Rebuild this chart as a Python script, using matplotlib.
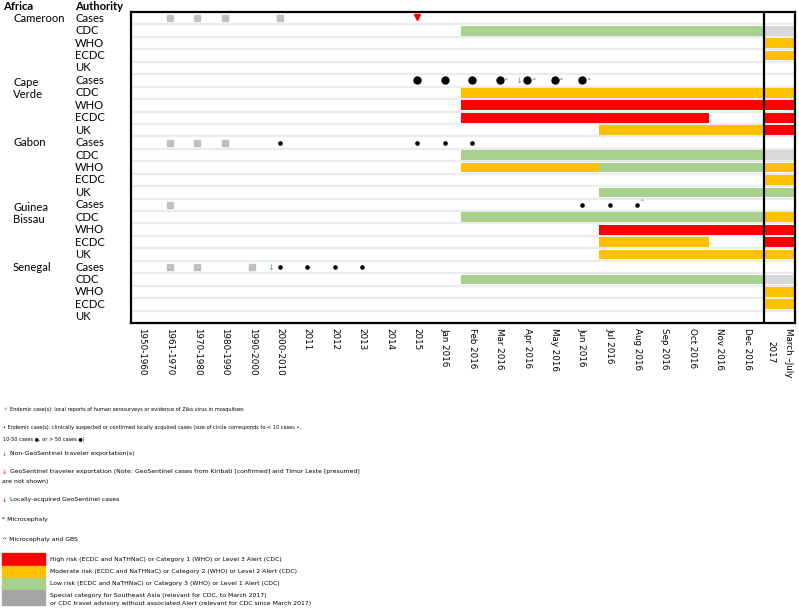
import matplotlib
matplotlib.use('Agg')
import matplotlib.pyplot as plt

# periods along the x axis (last one is the separate 2017 column)
periods = ['1950-1960', '1961-1970', '1970-1980', '1980-1990', '1990-2000', '2000-2010',
           '2011', '2012', '2013', '2014', '2015', 'Jan 2016', 'Feb 2016', 'Mar 2016',
           'Apr 2016', 'May 2016', 'Jun 2016', 'Jul 2016', 'Aug 2016', 'Sep 2016',
           'Oct 2016', 'Nov 2016', 'Dec 2016', 'March \u2013July\n2017']
countries = ['Cameroon', 'Cape Verde', 'Gabon', 'Guinea Bissau', 'Senegal']
country_labels = ['Cameroon', 'Cape\nVerde', 'Gabon', 'Guinea\nBissau', 'Senegal']
authorities = ['Cases', 'CDC', 'WHO', 'ECDC', 'UK']

# alert spans: country, authority, first period, last period, level
alert_spans = [
    ('Cameroon', 'CDC', 'Feb 2016', 'Dec 2016', 'low'),
    ('Cape Verde', 'CDC', 'Feb 2016', 'Dec 2016', 'moderate'),
    ('Cape Verde', 'WHO', 'Feb 2016', 'Dec 2016', 'high'),
    ('Cape Verde', 'ECDC', 'Feb 2016', 'Oct 2016', 'high'),
    ('Cape Verde', 'UK', 'Jul 2016', 'Dec 2016', 'moderate'),
    ('Gabon', 'CDC', 'Feb 2016', 'Dec 2016', 'low'),
    ('Gabon', 'WHO', 'Feb 2016', 'Jun 2016', 'moderate'),
    ('Gabon', 'WHO', 'Jul 2016', 'Dec 2016', 'low'),
    ('Gabon', 'UK', 'Jul 2016', 'Dec 2016', 'low'),
    ('Guinea Bissau', 'CDC', 'Feb 2016', 'Dec 2016', 'low'),
    ('Guinea Bissau', 'WHO', 'Jul 2016', 'Dec 2016', 'high'),
    ('Guinea Bissau', 'ECDC', 'Jul 2016', 'Oct 2016', 'moderate'),
    ('Guinea Bissau', 'UK', 'Jul 2016', 'Dec 2016', 'moderate'),
    ('Senegal', 'CDC', 'Feb 2016', 'Dec 2016', 'low'),
]
# March-July 2017 column, order CDC, WHO, ECDC, UK
alerts_2017 = {
    'Cameroon': ['special', 'moderate', 'moderate', None],
    'Cape Verde': ['moderate', 'high', 'high', 'high'],
    'Gabon': ['special', 'moderate', 'moderate', 'low'],
    'Guinea Bissau': ['moderate', 'high', 'high', 'moderate'],
    'Senegal': ['special', 'moderate', 'moderate', None],
}

# serosurvey / mosquito evidence (grey squares)
endemic_sero = {
    'Cameroon': ['1961-1970', '1970-1980', '1980-1990', '2000-2010'],
    'Gabon': ['1961-1970', '1970-1980', '1980-1990'],
    'Guinea Bissau': ['1961-1970'],
    'Senegal': ['1961-1970', '1970-1980', '1990-2000'],
}
# locally acquired cases: country, period, size class (1: <10, 2: 10-50, 3: >50)
local_cases = [
    ('Cape Verde', '2015', 3), ('Cape Verde', 'Jan 2016', 3), ('Cape Verde', 'Feb 2016', 3),
    ('Cape Verde', 'Mar 2016', 3), ('Cape Verde', 'Apr 2016', 3), ('Cape Verde', 'May 2016', 3),
    ('Cape Verde', 'Jun 2016', 3),
    ('Gabon', '2000-2010', 1), ('Gabon', '2015', 1), ('Gabon', 'Jan 2016', 1), ('Gabon', 'Feb 2016', 1),
    ('Guinea Bissau', 'Jun 2016', 1), ('Guinea Bissau', 'Jul 2016', 1), ('Guinea Bissau', 'Aug 2016', 1),
    ('Senegal', '2000-2010', 1), ('Senegal', '2011', 1), ('Senegal', '2012', 1), ('Senegal', '2013', 1),
]
microcephaly = [('Cape Verde', 'Mar 2016'), ('Cape Verde', 'Apr 2016'),
                ('Cape Verde', 'May 2016'), ('Cape Verde', 'Jun 2016')]
microcephaly_gbs = [('Guinea Bissau', 'Aug 2016')]
non_geo_exports = [('Cape Verde', 'Apr 2016'), ('Senegal', '2000-2010')]
local_geosentinel = [('Cameroon', '2015')]

colors = {'high': '#ff0000', 'moderate': '#ffc000', 'low': '#a9d18e', 'special': '#d9d9d9'}

W, H = 799, 611
fig = plt.figure(figsize=(W / 100, H / 100), dpi=100)

def fx(px):
    return px / W

def fy(py):
    return 1 - py / H

ax_l, ax_r, ax_t, ax_b = 131, 795, 12, 323
ax = fig.add_axes([fx(ax_l), fy(ax_b), fx(ax_r - ax_l), fy(ax_t) - fy(ax_b)])
colw = 27.52
xmax = (ax_r - ax_l) / colw
n_main = len(periods) - 1
nrows = len(countries) * len(authorities)
ax.set_xlim(0, xmax)
ax.set_ylim(nrows, 0)

def row(c, a):
    return countries.index(c) * len(authorities) + authorities.index(a) + 0.5

def col(p):
    return periods.index(p) + 0.4

for r in range(1, nrows):
    ax.axhline(r, color='#ececec', lw=1.6, zorder=1)

bh = 0.78
for c, a, p0, p1, lev in alert_spans:
    x0 = periods.index(p0)
    x1 = periods.index(p1) + 1
    ax.barh(row(c, a), x1 - x0, left=x0, height=bh, color=colors[lev], zorder=2)
for c, levs in alerts_2017.items():
    for a, lev in zip(authorities[1:], levs):
        if lev:
            ax.barh(row(c, a), xmax - n_main, left=n_main, height=bh, color=colors[lev], zorder=2)

for c, plist in endemic_sero.items():
    ax.plot([col(p) for p in plist], [row(c, 'Cases')] * len(plist), 's',
            color='#c0c0c0', ms=4.2, zorder=3)

dot_size = {1: 2.3, 2: 3.5, 3: 5.0}
for c, p, s in local_cases:
    ax.plot(col(p), row(c, 'Cases'), 'o', color='black', ms=dot_size[s], zorder=3)
for c, p in microcephaly:
    ax.text(col(p) + 0.2, row(c, 'Cases') - 0.05, '*', fontsize=4, color='#444444',
            ha='left', va='center', zorder=4)
for c, p in microcephaly_gbs:
    ax.text(col(p) + 0.08, row(c, 'Cases') - 0.25, '^', fontsize=4, color='#444444',
            ha='left', va='center', zorder=4)
for c, p in non_geo_exports:
    ax.text(col(p) - 0.2, row(c, 'Cases'), '\u2193', fontsize=6, color='#5b9bd5',
            ha='right', va='center', zorder=4)
for c, p in local_geosentinel:
    ax.plot(col(p), row(c, 'Cases') - 0.1, 'v', color='#ff0000', ms=4, zorder=3)

ax.axvline(n_main, color='black', lw=1.6, zorder=5)
for sp in ax.spines.values():
    sp.set_linewidth(1.6)
ax.set_yticks([])
ticks = [i + 0.4 for i in range(n_main)] + [n_main + (xmax - n_main) / 2]
ax.set_xticks(ticks)
ax.set_xticklabels(periods, rotation=-90, ha='center', va='top', fontsize=6.3,
                   family='DejaVu Sans')
ax.get_xticklabels()[-1].set_linespacing(2.2)
ax.tick_params(axis='x', length=0, pad=3.5)

# row labels
lab_font = dict(family=['Lato', 'DejaVu Sans'], fontsize=8.1)
fig.text(fx(3), fy(6), 'Africa', fontweight='bold', va='center', **lab_font)
fig.text(fx(75), fy(6), 'Authority', fontweight='bold', va='center', **lab_font)
row_px = (ax_b - ax_t) / nrows
for ci, name in enumerate(country_labels):
    yc = ax_t + (ci * len(authorities) + 0.5) * row_px
    if '\n' in name:
        fig.text(fx(13), fy(yc - 3), name, va='top', linespacing=1.1, **lab_font)
    else:
        fig.text(fx(13), fy(yc), name, va='center', **lab_font)
    for ai, a in enumerate(authorities):
        yr = ax_t + (ci * len(authorities) + ai + 0.5) * row_px
        fig.text(fx(75), fy(yr), a, va='center', **lab_font)

# legend
leg_fam = ['Liberation Sans Narrow', 'DejaVu Sans']
small = dict(family=leg_fam, fontsize=3.6, va='center')
leg_font = dict(family=leg_fam, fontsize=4.4, va='center')
fig.text(fx(3), fy(409), '\u25aa', color='#c0c0c0', **small)
fig.text(fx(10), fy(409), 'Endemic case(s): local reports of human serosurveys or evidence of Zika virus in mosquitoes', **small)
fig.text(fx(3), fy(427), '\u2022 Endemic case(s): clinically suspected or confirmed locally acquired cases (size of circle corresponds to < 10 cases \u2022,', **small)
fig.text(fx(3), fy(439), '10-50 cases \u25cf, or > 50 cases \u25cf)', **small)
fig.text(fx(2), fy(454), '\u2193', color='#4472c4', **leg_font)
fig.text(fx(10), fy(454), 'Non-GeoSentinel traveler exportation(s)', **leg_font)
fig.text(fx(2), fy(472), '\u21d3', color='#ff0000', **leg_font)
fig.text(fx(10), fy(472), 'GeoSentinel traveler exportation (Note: GeoSentinel cases from Kiribati [confirmed] and Timor Leste [presumed]', **leg_font)
fig.text(fx(2), fy(482), 'are not shown)', **leg_font)
fig.text(fx(2), fy(500), '\u2193', color='#ff0000', **leg_font)
fig.text(fx(10), fy(500), 'Locally-acquired GeoSentinel cases', **leg_font)
fig.text(fx(2), fy(519), '* Microcephaly', **leg_font)
fig.text(fx(2), fy(539), '^ Microcephaly and GBS', **leg_font)

legend_levels = ['high', 'moderate', 'low']
legend_texts = ['High risk (ECDC and NaTHNaC) or Category 1 (WHO) or Level 3 Alert (CDC)',
                'Moderate risk (ECDC and NaTHNaC) or Category 2 (WHO) or Level 2 Alert (CDC)',
                'Low risk (ECDC and NaTHNaC) or Category 3 (WHO) or Level 1 Alert (CDC)']
box_tops = [553, 565.5, 578, 590]
box_h = [12.5, 12.5, 12, 15]
for lev, txt, top, h in zip(legend_levels, legend_texts, box_tops, box_h):
    fig.patches.append(plt.Rectangle((fx(2), fy(top + h)), fx(43), h / H, color=colors[lev],
                                     transform=fig.transFigure, figure=fig))
    fig.text(fx(50), fy(top + h / 2), txt, **leg_font)
fig.patches.append(plt.Rectangle((fx(2), fy(605)), fx(43), 15 / H, color='#a6a6a6',
                                 transform=fig.transFigure, figure=fig))
fig.text(fx(50), fy(595), 'Special category for Southeast Asia (relevant for CDC, to March 2017)', **leg_font)
fig.text(fx(50), fy(604), 'or CDC travel advisory without associated Alert (relevant for CDC since March 2017)', **leg_font)

fig.savefig('out.png', dpi=100)
